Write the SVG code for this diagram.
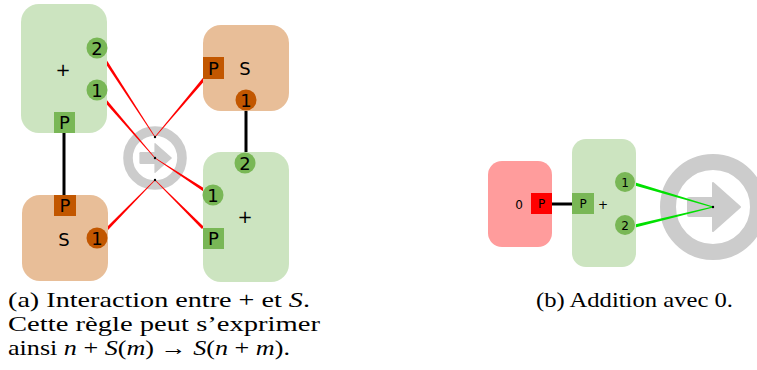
<svg xmlns="http://www.w3.org/2000/svg" xmlns:xlink="http://www.w3.org/1999/xlink" width="757" height="370" viewBox="0 0 757 370">
<style>
.gbox{fill:#cce4c0}
.obox{fill:#e8be98}
.rbox{fill:#ff9c9c}
.gport{fill:#79b756}
.oport{fill:#c25700}
.rport{fill:#ff0000}
.lbl{font-family:"DejaVu Sans",sans-serif;font-size:18px;fill:#000;text-anchor:middle}
.sl{font-family:"DejaVu Sans",sans-serif;font-size:12px;fill:#000;text-anchor:middle}
.wire{stroke:#000;stroke-width:3;fill:none}
.red{fill:#ff0000}
.grn{fill:#00e000}
.dot{fill:#000}
.cap{font-family:"Liberation Serif","Times New Roman",serif;font-size:21px;fill:#000}
</style>
<defs>
<g id="rw">
<circle cx="0" cy="0" r="45" fill="none" stroke="#cccccc" stroke-width="16"/>
<rect x="-26" y="-10" width="28" height="20" rx="2" fill="#cccccc"/>
<polygon points="0,-24 27,0 0,24" fill="#cccccc" stroke="#cccccc" stroke-width="2" stroke-linejoin="round"/>
</g>
</defs>

<g id="symbols">
<use xlink:href="#rw" transform="translate(155,158) scale(0.6)"/>
<use xlink:href="#rw" transform="translate(713,207)"/>
</g>

<g id="connectors">
<line class="wire" x1="64" y1="133" x2="64" y2="195"/>
<line class="wire" x1="246" y1="110" x2="246" y2="152"/>
<line class="wire" x1="552" y1="204" x2="572" y2="204" stroke-width="2.5"/>
<polygon class="red" points="101.74,57.82 154.75,137.16 155.25,136.84 104.26,56.18"/>
<polygon class="red" points="202.85,78.03 154.77,136.81 155.23,137.19 205.15,79.97"/>
<polygon class="red" points="102.87,99.98 154.77,158.2 155.23,157.8 105.13,98.02"/>
<polygon class="red" points="204.82,188.74 155.16,157.75 154.84,158.25 203.18,191.26"/>
<polygon class="red" points="107.07,231.05 155.21,180.21 154.79,179.79 104.93,228.95"/>
<polygon class="red" points="204.06,226.94 155.21,179.79 154.79,180.21 201.94,229.06"/>
<polygon class="grn" points="634.58,185.44 712.86,207.48 713.14,206.52 635.42,182.56"/>
<polygon class="grn" points="635.36,227.46 713.12,207.49 712.88,206.51 634.64,224.54"/>
<circle class="dot" cx="155" cy="137" r="1.2"/>
<circle class="dot" cx="155" cy="158" r="1.2"/>
<circle class="dot" cx="155" cy="180" r="1.2"/>
<circle class="dot" cx="713" cy="207" r="1.2"/>
</g>

<g id="plus-a">
<rect class="gbox" x="21" y="4" width="86" height="129" rx="18"/>
<text class="lbl" x="63" y="76">+</text>
<circle class="gport" cx="97" cy="48" r="10.5"/>
<text class="lbl" x="97" y="54.5">2</text>
<circle class="gport" cx="97" cy="90" r="10.5"/>
<text class="lbl" x="97" y="96.5">1</text>
<rect class="gport" x="54" y="112" width="21" height="21"/>
<text class="lbl" x="64.5" y="129">P</text>
</g>

<g id="s-a">
<rect class="obox" x="22" y="195" width="86" height="86" rx="18"/>
<rect class="oport" x="54" y="195" width="22" height="21"/>
<text class="lbl" x="65" y="212">P</text>
<text class="lbl" x="64" y="246">S</text>
<circle class="oport" cx="97" cy="238" r="10.5"/>
<text class="lbl" x="97" y="244.5">1</text>
</g>

<g id="s-b">
<rect class="obox" x="203" y="25" width="86" height="86" rx="18"/>
<rect class="oport" x="203" y="57" width="21" height="22"/>
<text class="lbl" x="213.5" y="74.5">P</text>
<text class="lbl" x="245" y="74.5">S</text>
<circle class="oport" cx="246" cy="100" r="10.5"/>
<text class="lbl" x="246" y="106.5">1</text>
</g>

<g id="plus-b">
<rect class="gbox" x="203" y="152" width="86" height="130" rx="18"/>
<circle class="gport" cx="245" cy="163" r="10.5"/>
<text class="lbl" x="245" y="169.5">2</text>
<circle class="gport" cx="213" cy="195" r="10.5"/>
<text class="lbl" x="213" y="201.5">1</text>
<text class="lbl" x="245" y="223">+</text>
<rect class="gport" x="203" y="228" width="21" height="21"/>
<text class="lbl" x="213.5" y="245">P</text>
</g>

<g id="zero">
<rect class="rbox" x="488" y="161" width="64" height="86" rx="14"/>
<text class="sl" x="519" y="208.5">0</text>
<rect class="rport" x="531" y="193" width="21" height="21"/>
<text class="sl" x="541.5" y="208">P</text>
</g>

<g id="plus-c">
<rect class="gbox" x="572" y="139" width="64" height="128" rx="14"/>
<rect class="gport" x="572" y="193" width="22" height="21"/>
<text class="sl" x="583" y="208">P</text>
<text class="sl" x="603" y="208.5">+</text>
<circle class="gport" cx="625" cy="182" r="10"/>
<text class="sl" x="625" y="186.5">1</text>
<circle class="gport" cx="625" cy="225" r="10"/>
<text class="sl" x="625" y="229.5">2</text>
</g>

<g id="captions">
<text class="cap" x="8" y="307" textLength="302" lengthAdjust="spacingAndGlyphs">(a) Interaction entre + et <tspan font-style="italic">S</tspan>.</text>
<text class="cap" x="8" y="331" textLength="312" lengthAdjust="spacingAndGlyphs">Cette règle peut s’exprimer</text>
<text class="cap" x="8" y="355" textLength="282" lengthAdjust="spacingAndGlyphs">ainsi <tspan font-style="italic">n</tspan> + <tspan font-style="italic">S</tspan>(<tspan font-style="italic">m</tspan>) → <tspan font-style="italic">S</tspan>(<tspan font-style="italic">n</tspan> + <tspan font-style="italic">m</tspan>).</text>
<text class="cap" x="536" y="307" textLength="197" lengthAdjust="spacingAndGlyphs">(b) Addition avec 0.</text>
</g>
</svg>
